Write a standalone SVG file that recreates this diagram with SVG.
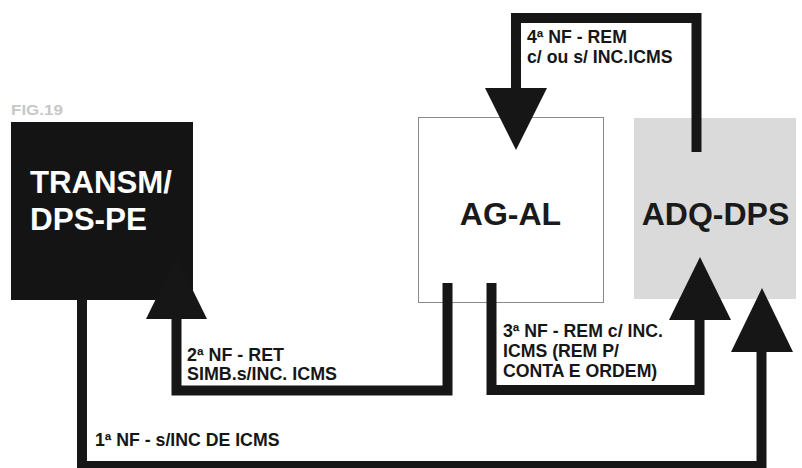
<svg xmlns="http://www.w3.org/2000/svg" width="802" height="468" viewBox="0 0 802 468">
<style>
.lbl{font-family:"Liberation Sans",Arial,sans-serif;font-weight:bold;font-size:17.7px;fill:#161616}
.big{font-family:"Liberation Sans",Arial,sans-serif;font-weight:bold;font-size:32px}
.wire{fill:none;stroke:#161616;stroke-width:10;stroke-linejoin:miter;stroke-linecap:butt}
.head{fill:#161616}
</style>
<rect width="802" height="468" fill="#ffffff"/>
<text x="11" y="115" font-family="Liberation Sans,Arial,sans-serif" font-weight="bold" font-size="14" fill="#c8c8c8" textLength="52" lengthAdjust="spacingAndGlyphs">FIG.19</text>
<g id="transm">
<rect x="11" y="122" width="182" height="178" fill="#141414"/>
<text class="big" x="30" y="193" fill="#ffffff" font-size="30" textLength="142" lengthAdjust="spacingAndGlyphs">TRANSM/</text>
<text class="big" x="30" y="230" fill="#ffffff" font-size="30" textLength="117" lengthAdjust="spacingAndGlyphs">DPS-PE</text>
</g>
<g id="agal">
<rect x="418.5" y="117.5" width="185" height="185" fill="#ffffff" stroke="#8a8a8a" stroke-width="1"/>
<text class="big" x="510.5" y="225" text-anchor="middle" fill="#1a1a1a">AG-AL</text>
</g>
<g id="adq">
<rect x="634" y="118" width="162" height="181" fill="#dadada"/>
<text class="big" x="715.5" y="225" text-anchor="middle" fill="#1a1a1a">ADQ-DPS</text>
</g>
<g id="connectors">
<polyline class="wire" points="696.5,152 696.5,18 516,18 516,90"/>
<polygon class="head" points="485,88 547,88 516,150"/>
<polyline class="wire" points="447.5,283 447.5,390.5 176.5,390.5 176.5,317"/>
<polygon class="head" points="146,319 207,319 176.5,257"/>
<polyline class="wire" points="491.5,283 491.5,390 699.5,390 699.5,318"/>
<polygon class="head" points="669,320 731,320 700,257"/>
<polyline class="wire" points="82,298 82,466 761.5,466 761.5,350"/>
<polygon class="head" points="731,352 793,352 762,288"/>
</g>
<g id="labels">
<text class="lbl" x="527" y="43">4ª NF - REM</text>
<text class="lbl" x="527" y="63">c/ ou s/ INC.ICMS</text>
<text class="lbl" x="187" y="361" font-size="16.5" textLength="97" lengthAdjust="spacingAndGlyphs">2ª NF - RET</text>
<text class="lbl" x="187" y="380" font-size="16.5" textLength="150" lengthAdjust="spacingAndGlyphs">SIMB.s/INC. ICMS</text>
<text class="lbl" x="503" y="337">3ª NF - REM c/ INC.</text>
<text class="lbl" x="503" y="357">ICMS (REM P/</text>
<text class="lbl" x="503" y="377">CONTA E ORDEM)</text>
<text class="lbl" x="95" y="446">1ª NF - s/INC DE ICMS</text>
</g>
</svg>
